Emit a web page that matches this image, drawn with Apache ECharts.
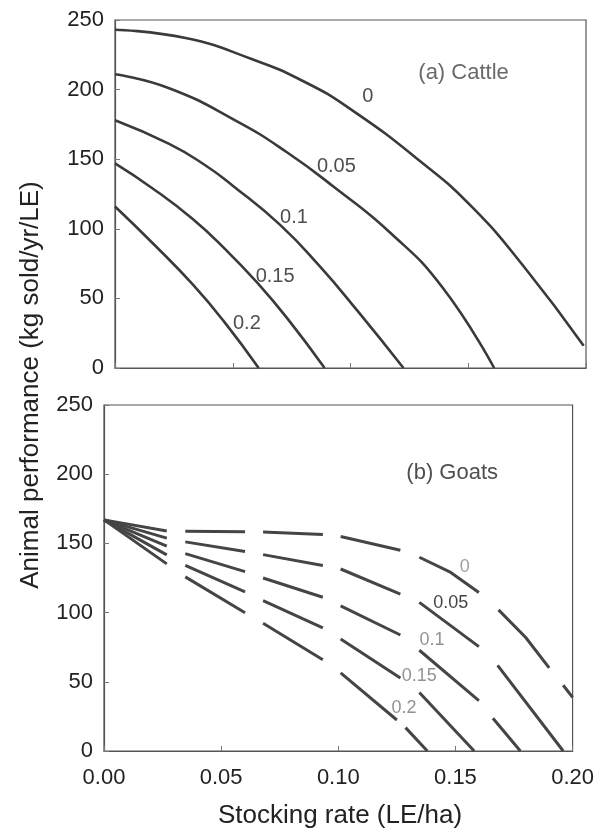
<!DOCTYPE html>
<html>
<head>
<meta charset="utf-8">
<script src="https://cdn.jsdelivr.net/npm/echarts@6/dist/echarts.min.js"></script>
<style>
  html, body { margin: 0; padding: 0; background: #ffffff; }
  #chart { width: 597px; height: 832px; }
</style>
</head>
<body>
<div id="chart"></div>
<script>
// ---------- Data ----------
const xTicks = [0, 0.05, 0.10, 0.15, 0.20];
const yTicks = [0, 50, 100, 150, 200, 250];

// (a) Cattle curves: [stocking rate, kg sold/yr/LE]
const cattle_0    = [[0,243],[0.03,237],[0.058,222],[0.08,206],[0.1,186],[0.13,148],[0.152,115],[0.174,72],[0.199,16]];
const cattle_005  = [[0,211],[0.023,201],[0.052,177],[0.073,155],[0.093,130],[0.117,97],[0.139,58],[0.161,0]];
const cattle_01   = [[0,178],[0.023,161],[0.038,146],[0.05,131],[0.07,103],[0.087,73],[0.103,41],[0.1225,0]];
const cattle_015  = [[0,147],[0.016,129],[0.033,107],[0.047,85],[0.06,62],[0.073,36],[0.089,0]];
const cattle_02   = [[0,116],[0.017,88],[0.033,60],[0.046,34],[0.061,0]];

const cattleLabelText = ['0', '0.05', '0.1', '0.15', '0.2'];
const cattleLabelAt   = [[0.1073,195],[0.094,145],[0.076,108],[0.068,66],[0.056,32]];

// (b) Goats curves (dashed pieces; '-' marks a gap)
const goats_0   = [[0,167],[0.0268,159],['-','-'],[0.0347,158.7],[0.0602,158.5],['-','-'],[0.0679,158.3],[0.0934,156.5],['-','-'],
                   [0.101,155],[0.1265,145],['-','-'],[0.1346,140],[0.148,129],[0.160,114.5],['-','-'],[0.1684,102],[0.180,82],[0.190,60],['-','-'],[0.196,47.5],[0.2,38.8]];
const goats_005 = [[0,167],[0.0268,153.8],['-','-'],[0.0347,151.1],[0.0602,144.1],['-','-'],[0.0679,141.9],[0.0934,134],['-','-'],
                   [0.101,131.5],[0.1265,113.4],['-','-'],[0.1346,107.4],[0.160,75.4],['-','-'],[0.168,61.9],[0.196,0]];
const goats_01  = [[0,167],[0.0268,148],['-','-'],[0.0347,142.6],[0.0602,129.6],['-','-'],[0.0679,125],[0.0934,111.1],['-','-'],
                   [0.101,104.8],[0.1265,83.8],['-','-'],[0.1346,72.8],[0.160,36.4],['-','-'],[0.166,23.6],[0.1777,0]];
const goats_015 = [[0,167],[0.0268,141.7],['-','-'],[0.0347,134.2],[0.0602,114.9],['-','-'],[0.0679,108.7],[0.0934,88.9],['-','-'],
                   [0.101,80.9],[0.1265,52.7],['-','-'],[0.1346,42.2],[0.158,0]];
const goats_02  = [[0,167],[0.0268,135.2],['-','-'],[0.0347,125.8],[0.0602,99.9],['-','-'],[0.0679,92.3],[0.0934,66],['-','-'],
                   [0.101,56.4],[0.125,22.4],['-','-'],[0.1287,16.9],[0.138,0]];

const goatsLabelText = ['0', '0.05', '0.1', '0.15', '0.2'];
const goatsLabelAt   = [[0.154,133],[0.148,107],[0.140,80],[0.1346,54],[0.128,31]];

const panelTitles = ['(a) Cattle', '(b) Goats'];
const panelTitleAt = [[0.148,212],[0.1486,201]];

const xTitle = 'Stocking rate (LE/ha)';
const yTitle = 'Animal performance (kg sold/yr/LE)';

// ---------- Chart ----------
const FONT = 'Liberation Sans, Arial, sans-serif';
const chart = echarts.init(document.getElementById('chart'), null, { renderer: 'canvas' });

function xAxisFor(gi, showLabels) {
  return {
    type: 'value', gridIndex: gi, min: 0, max: 0.2, interval: 0.05,
    axisLine: { show: true, lineStyle: { color: '#555', width: 1.2 } },
    axisTick: { show: true, inside: true, length: 5, lineStyle: { color: '#777' } },
    splitLine: { show: false },
    axisLabel: {
      show: showLabels, fontFamily: FONT, fontSize: 22, color: '#222', margin: 16,
      formatter: v => v.toFixed(2)
    }
  };
}
function yAxisFor(gi, margin) {
  return {
    type: 'value', gridIndex: gi, min: 0, max: 250, interval: 50,
    axisLine: { show: true, lineStyle: { color: '#555', width: 1.2 } },
    axisTick: { show: true, inside: true, length: 5, lineStyle: { color: '#777' } },
    splitLine: { show: false },
    axisLabel: { fontFamily: FONT, fontSize: 22, color: '#222', margin: margin }
  };
}

const curveStyle = { color: '#3a3a3a', width: 2.6 };
const goatStyle  = { color: '#454545', width: 3 };

function cattleSeries(d) {
  return { type: 'line', xAxisIndex: 0, yAxisIndex: 0, data: d, smooth: 0.5,
           showSymbol: false, symbol: 'none', lineStyle: curveStyle, silent: true, z: 3 };
}
function goatSeries(d) {
  return { type: 'line', xAxisIndex: 1, yAxisIndex: 1, data: d, smooth: false, connectNulls: false,
           showSymbol: false, symbol: 'none', lineStyle: goatStyle, silent: true, z: 3 };
}
function labelSeries(xi, texts, at, color, size) {
  return {
    type: 'scatter', xAxisIndex: xi, yAxisIndex: xi, symbolSize: 0, silent: true, z: 5,
    data: at.map((p, i) => ({ value: [p[0], p[1]], name: texts[i] })),
    label: {
      show: true, position: 'inside', formatter: p => p.name,
      fontFamily: FONT, fontSize: size, color: color
    }
  };
}

const option = {
  animation: false,
  backgroundColor: '#ffffff',
  grid: [
    { left: 115, top: 20, width: 471, height: 348, show: true, borderColor: '#555', borderWidth: 1.2 },
    { left: 104, top: 405, width: 471, height: 346, show: true, borderColor: '#555', borderWidth: 1.2 }
  ],
  xAxis: [ xAxisFor(0, false), xAxisFor(1, true) ],
  yAxis: [ yAxisFor(0, 11), yAxisFor(1, 11) ],
  graphic: [
    { type: 'text', x: 340, y: 816,
      style: { text: xTitle, font: '26px ' + FONT, fill: '#222', textAlign: 'center', textVerticalAlign: 'middle' } },
    { type: 'text', x: 31, y: 385, rotation: Math.PI / 2,
      style: { text: yTitle, font: '26px ' + FONT, fill: '#222', textAlign: 'center', textVerticalAlign: 'middle' } }
  ],
  series: [
    cattleSeries(cattle_0), cattleSeries(cattle_005), cattleSeries(cattle_01),
    cattleSeries(cattle_015), cattleSeries(cattle_02),
    goatSeries(goats_0), goatSeries(goats_005), goatSeries(goats_01),
    goatSeries(goats_015), goatSeries(goats_02),
    labelSeries(0, cattleLabelText, cattleLabelAt, '#222', 20),
    labelSeries(1, goatsLabelText.slice(0, 1), goatsLabelAt.slice(0, 1), '#888', 18),
    labelSeries(1, goatsLabelText.slice(1, 2), goatsLabelAt.slice(1, 2), '#111', 18),
    labelSeries(1, goatsLabelText.slice(2), goatsLabelAt.slice(2), '#777', 18),
    labelSeries(0, [panelTitles[0]], [panelTitleAt[0]], '#444', 22),
    labelSeries(1, [panelTitles[1]], [panelTitleAt[1]], '#222', 22)
  ]
};
chart.setOption(option);
</script>
</body>
</html>
